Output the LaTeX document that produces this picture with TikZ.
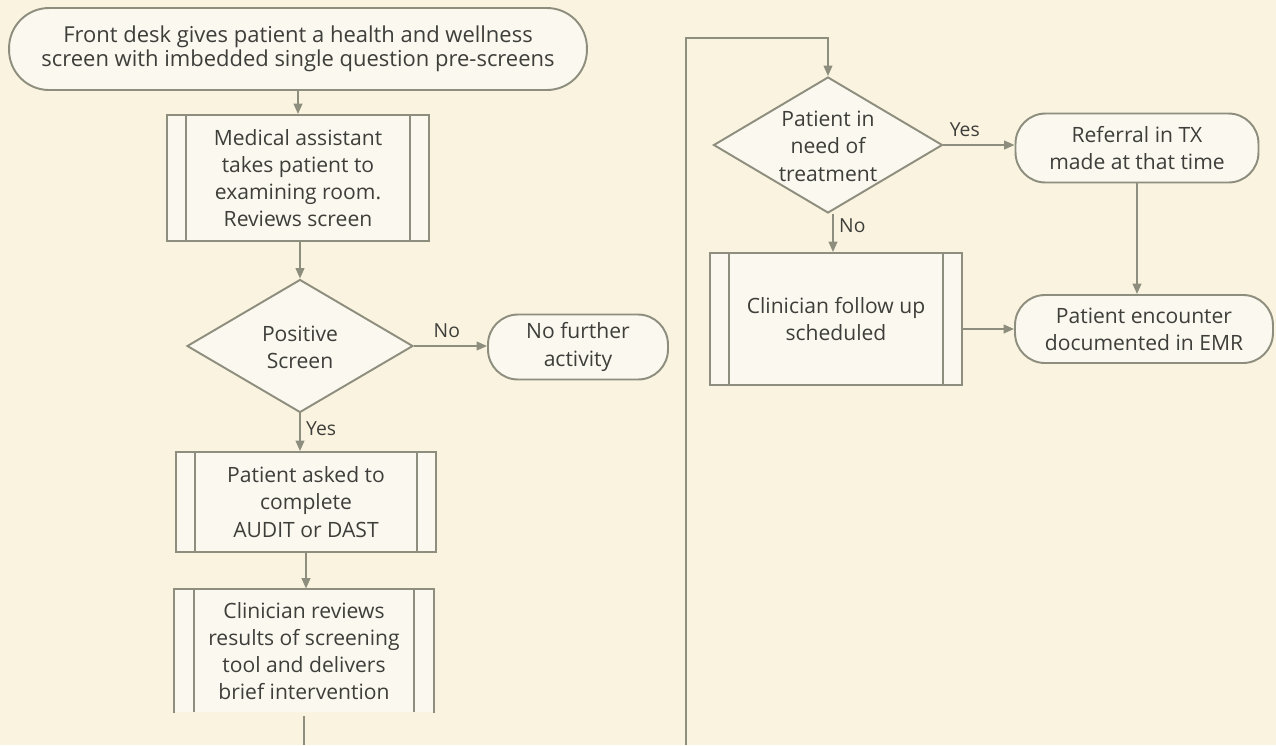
\documentclass[tikz,border=0pt]{standalone}
\usepackage{fontspec}
\setmainfont{Open Sans}
\usetikzlibrary{shapes.geometric,arrows.meta}
\definecolor{bgcol}{HTML}{FAF3E0}
\definecolor{nodefill}{HTML}{FBF8EF}
\definecolor{linecol}{HTML}{8E8E7E}
\definecolor{txtcol}{HTML}{3E3E3A}
\newcommand{\fixedtext}[1]{\makebox[0pt]{\smash{\raisebox{-5pt}{\begin{tabular}{@{}c@{}}#1\end{tabular}}}}}
\tikzset{
  x=0.02cm, y=-0.02cm,
  base/.style={fill=nodefill, draw=linecol, line width=1.1pt, text=txtcol, align=center, inner sep=0pt,
    font=\fontsize{12}{15.5}\selectfont},
  term/.style={base, rounded corners=0.6cm},
  procbox/.style={base, path picture={
      \draw[linecol, line width=1.1pt] ([xshift=0.38cm]path picture bounding box.north west) -- ([xshift=0.38cm]path picture bounding box.south west);
      \draw[linecol, line width=1.1pt] ([xshift=-0.38cm]path picture bounding box.north east) -- ([xshift=-0.38cm]path picture bounding box.south east);}},
  decision/.style={base, diamond},
  conn/.style={draw=linecol, line width=1.1pt, -{Triangle[length=6pt,width=5pt]}},
  plainconn/.style={draw=linecol, line width=1.1pt},
  lbl/.style={text=txtcol, font=\fontsize{11}{13}\selectfont, inner sep=1pt}
}
\begin{document}
\begin{tikzpicture}
\fill[bgcol] (0,0) rectangle (1276,745);
\useasboundingbox (0,0) rectangle (1276,745);

% left column
\node[term, minimum width=11.56cm, minimum height=1.64cm, rounded corners=0.8cm, font=\fontsize{12.5}{13.5}\selectfont] (start) at (298,49)
  {Front desk gives patient a health and wellness\\screen with imbedded single question pre-screens};
\node[procbox, minimum width=5.24cm, minimum height=2.52cm] (b1) at (298,178)
  {Medical assistant\\takes patient to\\examining room.\\Reviews screen};
\node[decision, minimum width=4.52cm, minimum height=2.66cm] (d1) at (300,346)
  {\fixedtext{Positive\\Screen}};
\node[term, minimum width=3.6cm, minimum height=1.3cm] (t2) at (578,347)
  {No further\\activity};
\node[procbox, minimum width=5.2cm, minimum height=2.0cm] (b2) at (306,502)
  {Patient asked to\\complete\\AUDIT or DAST};
\node[procbox, draw=none, minimum width=5.16cm, minimum height=2.46cm] (b3) at (304,651)
  {Clinician reviews\\results of screening\\tool and delivers\\brief intervention};
\draw[plainconn] (b3.south west) -- (b3.north west) -- (b3.north east) -- (b3.south east);

% right column
\node[decision, minimum width=4.58cm, minimum height=2.72cm] (d2) at (828,145)
  {\fixedtext{Patient in\\need of\\treatment}};
\node[term, minimum width=4.86cm, minimum height=1.38cm] (t3) at (1137,148)
  {Referral in TX\\made at that time};
\node[procbox, minimum width=5.04cm, minimum height=2.64cm] (b4) at (836,319)
  {Clinician follow up\\scheduled};
\node[term, minimum width=5.16cm, minimum height=1.36cm] (t4) at (1144,329)
  {Patient encounter\\documented in EMR};

% connectors
\draw[conn] (start.south -| b1.north) -- (b1.north);
\draw[conn] (b1.south -| d1.north) -- (d1.north);
\draw[conn] (d1.east) -- (d1.east -| t2.west) node[lbl, pos=0.45, above=3pt] {No};
\draw[conn] (d1.south) -- (d1.south |- b2.north) node[lbl, pos=0.4, right=2pt] {Yes};
\draw[conn] (b2.south) -- (b2.south |- b3.north);

\coordinate (c1) at (304,745);
\coordinate (c2) at (686,745);
\coordinate (c3) at (686,38);
\draw[plainconn] ([yshift=-0.06cm]b3.south) -- (c1);
\draw[conn] (c2) -- (c3) -- (c3 -| d2.north) -- (d2.north);

\draw[conn] (d2.east) -- (d2.east -| t3.west) node[lbl, pos=0.3, above=3pt] {Yes};
\draw[conn] ([xshift=0.1cm]d2.south) -- ([xshift=0.1cm]d2.south |- b4.north) node[lbl, pos=0.3, right=2pt] {No};
\draw[conn] (t3.south) -- (t3.south |- t4.north);
\draw[conn] (t4.west -| b4.east) -- (t4.west);
\end{tikzpicture}
\end{document}
